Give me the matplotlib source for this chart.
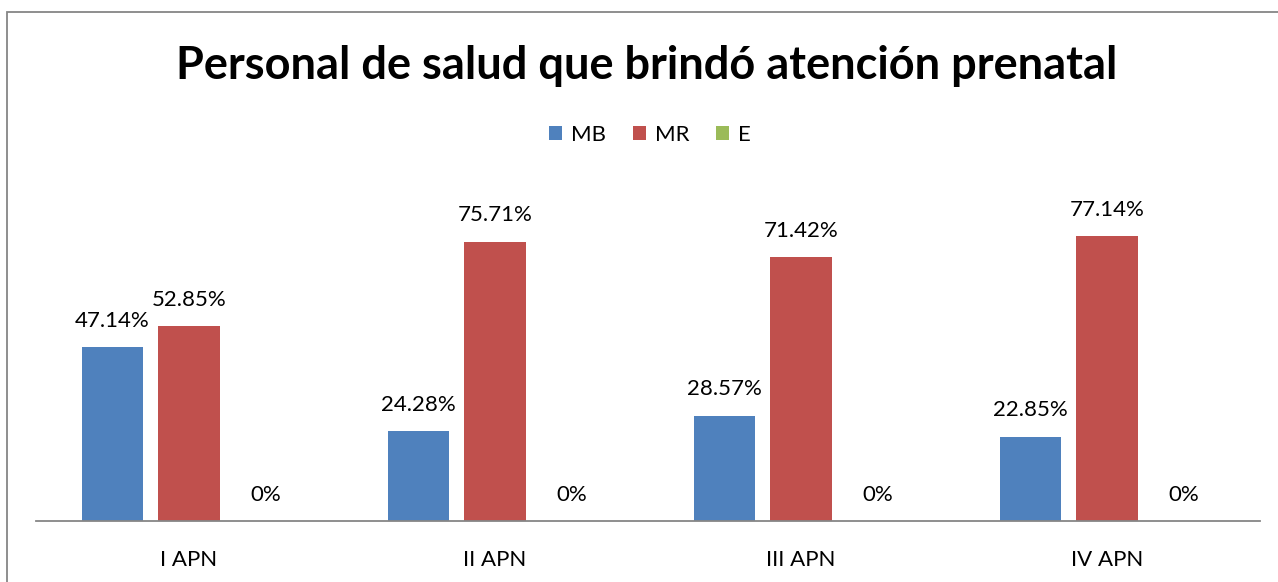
import matplotlib
matplotlib.use("Agg")
import matplotlib.pyplot as plt
from matplotlib.patches import Rectangle
import numpy as np

plt.rcParams['font.family'] = ['Lato', 'DejaVu Sans']

categories = ["I APN", "II APN", "III APN", "IV APN"]
series_names = ["MB", "MR", "E"]
mb = [47.14, 24.28, 28.57, 22.85]
mr = [52.85, 75.71, 71.42, 77.14]
e = [0, 0, 0, 0]
labels_mb = ["47.14%", "24.28%", "28.57%", "22.85%"]
labels_mr = ["52.85%", "75.71%", "71.42%", "77.14%"]
labels_e = ["0%", "0%", "0%", "0%"]
colors = ["#4F81BD", "#C0504D", "#9BBB59"]

W, H = 1278, 582
fig = plt.figure(figsize=(W / 100, H / 100), dpi=100)

# outer chart border (partly cut off at right/bottom)
fig.patches.append(Rectangle((7 / W, -0.1), 1.2, (H - 12) / H + 0.1, transform=fig.transFigure,
                             fill=False, edgecolor="#868686", linewidth=1.3))

ax_left, ax_right = 36, 1260
ax_top, ax_bot = 160, 521
ax = fig.add_axes([ax_left / W, 1 - ax_bot / H, (ax_right - ax_left) / W, (ax_bot - ax_top) / H])

x = np.arange(len(categories))
bw = 0.2
gap = 0.05
offsets = [-(bw + gap), 0, bw + gap]
data = [mb, mr, e]
labs = [labels_mb, labels_mr, labels_e]
for i, (vals, lab) in enumerate(zip(data, labs)):
    bars = ax.bar(x + offsets[i], vals, width=bw, color=colors[i], label=series_names[i])
    for b, t in zip(bars, lab):
        ax.annotate(t, (b.get_x() + b.get_width() / 2, b.get_height()), xytext=(0, 19),
                    textcoords="offset points", ha="center", va="center", fontsize=16)

ax.set_xlim(-0.5, len(categories) - 0.5)
ax.set_ylim(0, (ax_bot - ax_top) / 3.69)
ax.set_xticks(x)
ax.set_xticklabels(categories, fontsize=16)
ax.tick_params(axis='x', length=0, pad=21)
ax.set_yticks([])
for s in ["top", "right", "left"]:
    ax.spines[s].set_visible(False)
ax.spines["bottom"].set_color("#868686")
ax.spines["bottom"].set_linewidth(1.3)

fig.text(647 / W, 1 - 66 / H, "Personal de salud que brindó atención prenatal",
         ha="center", va="center", fontsize=32.5, fontweight="bold")

fig.legend(loc="center", bbox_to_anchor=(650 / W, 1 - 135 / H), ncol=3, frameon=False,
           fontsize=16, handlelength=0.6, handleheight=0.6, handletextpad=0.4, columnspacing=1.2)

fig.savefig("out.png", dpi=100)
